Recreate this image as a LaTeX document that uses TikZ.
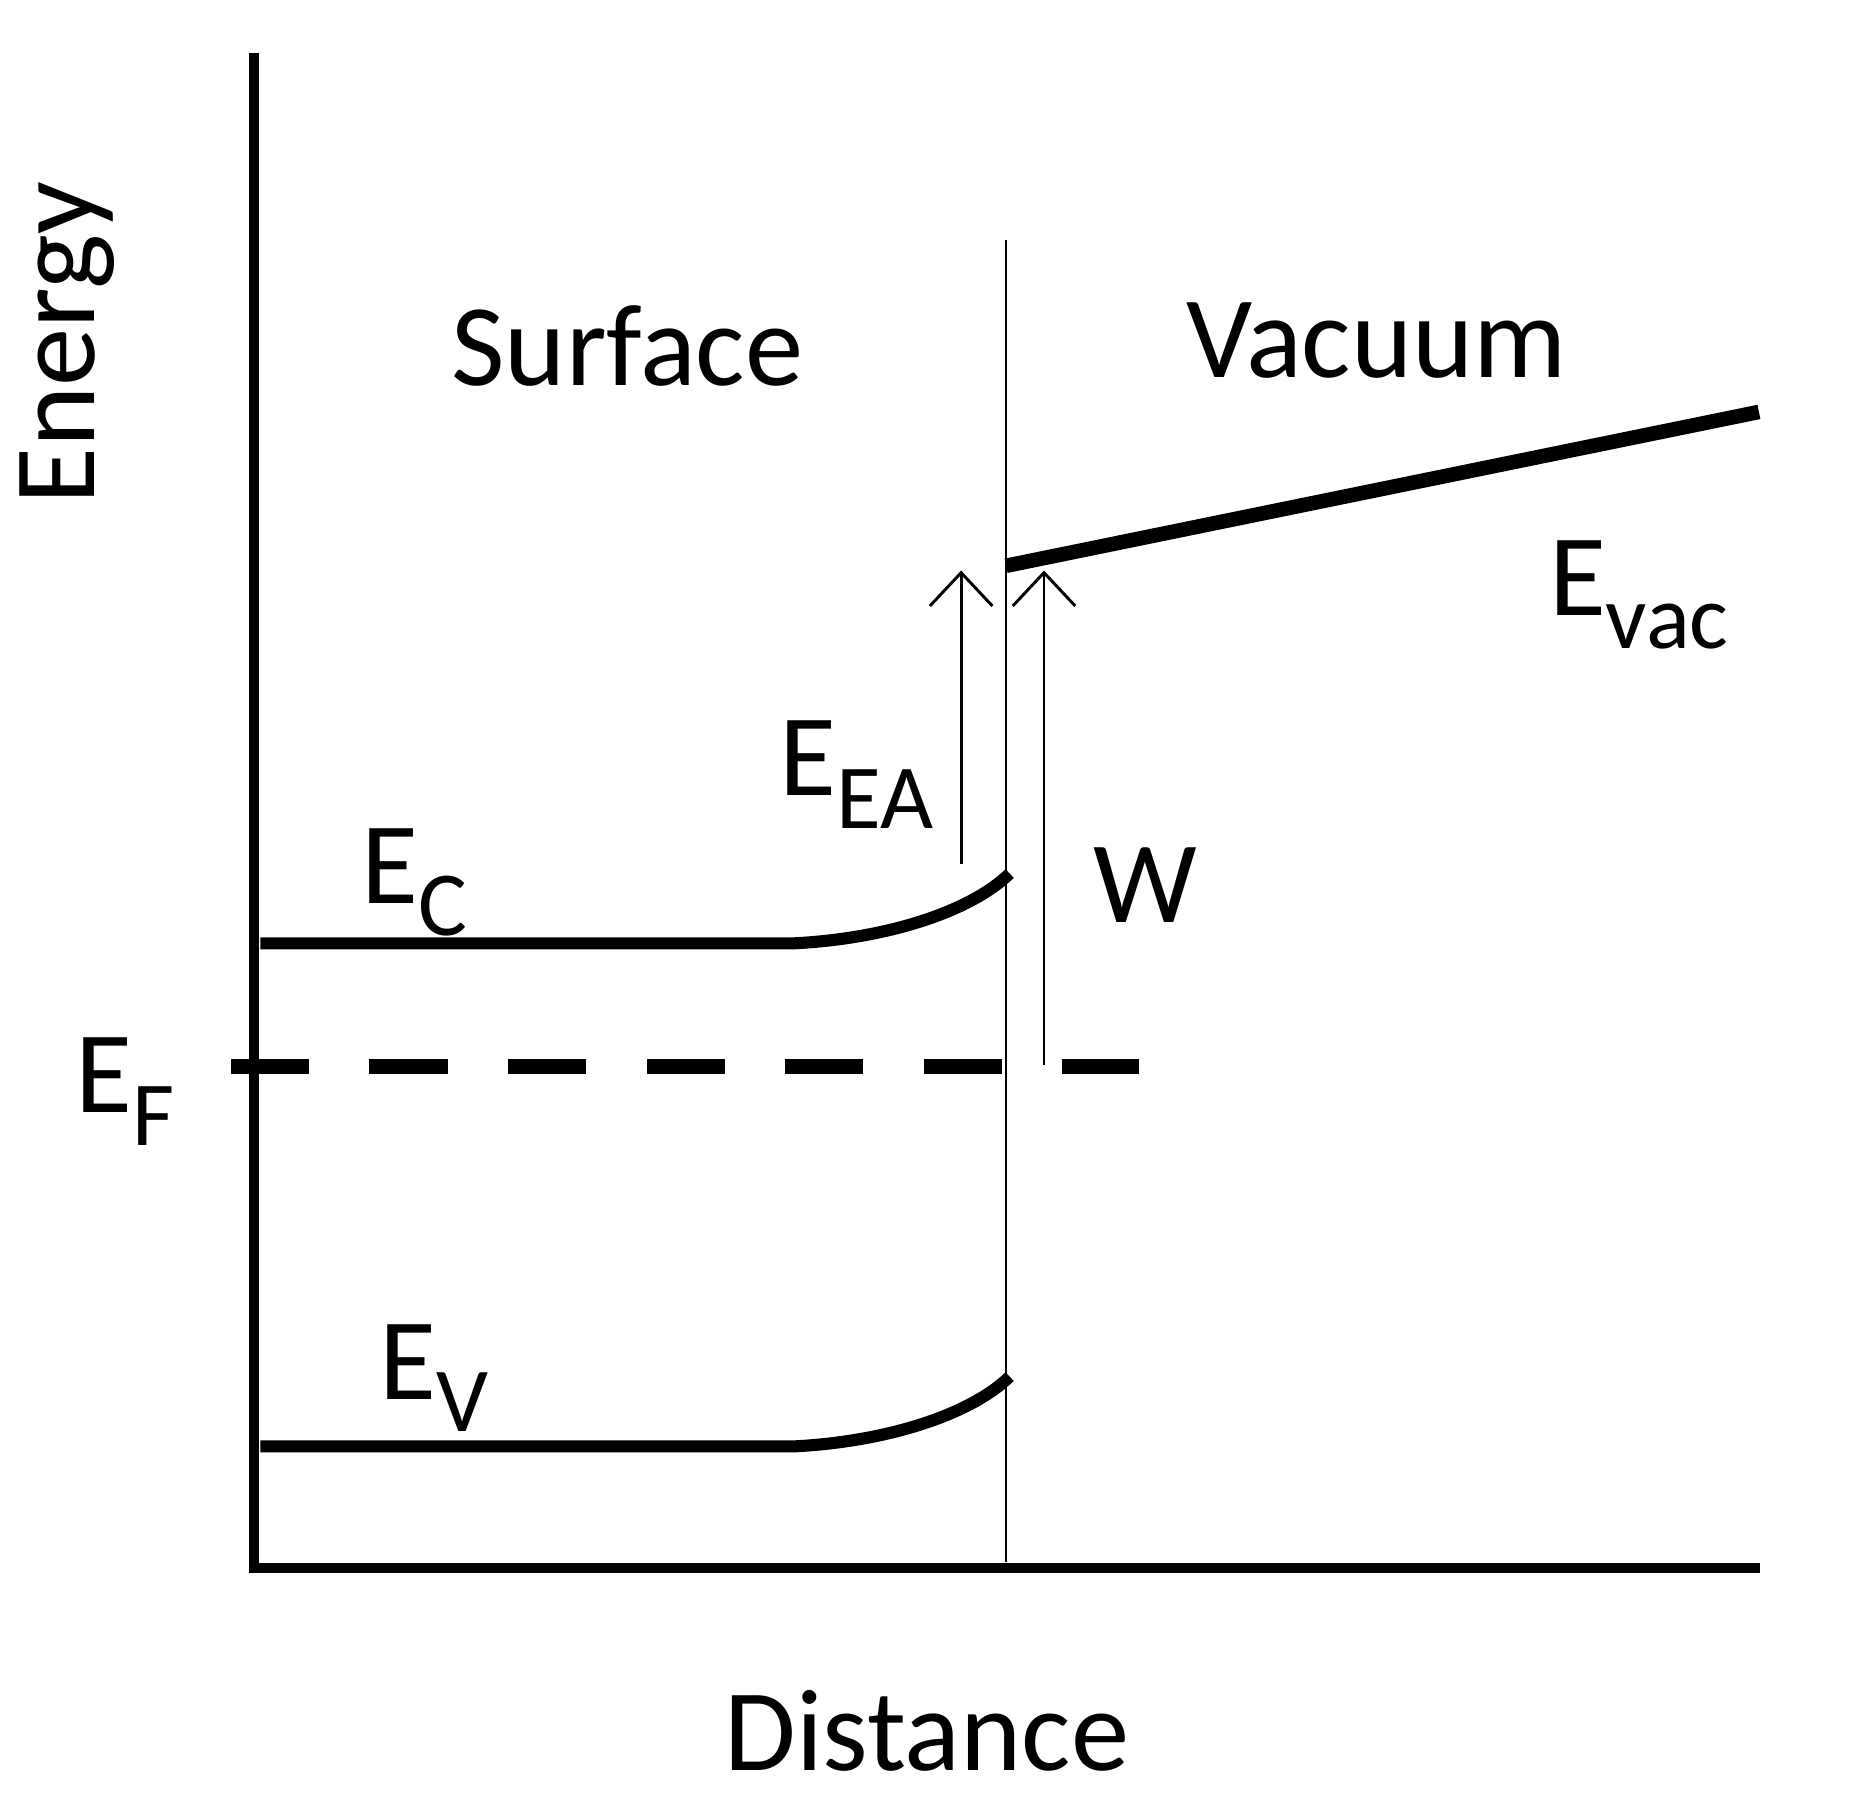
\documentclass[tikz,border=0pt]{standalone}
\usepackage{fontspec}
\setmainfont{Carlito}
\usetikzlibrary{arrows.meta}
\newcommand{\sbs}[1]{\raisebox{-0.28em}{\fontsize{22}{24}\selectfont #1}}
\begin{document}
\begin{tikzpicture}[x=0.01cm,y=-0.01cm,
  lbl/.style={inner sep=0pt,font=\fontsize{28}{30}\selectfont},
  ax/.style={line width=2.4pt},
  band/.style={line width=2.9pt},
  thin/.style={line width=0.6pt},
  arr/.style={line width=0.7pt,-{Straight Barb[length=8pt,width=15pt,line width=0.7pt]}}]
\useasboundingbox (0,0) rectangle (1568,1521);
\coordinate (o) at (215,1325);
\coordinate (yt) at (215,45);
\coordinate (xr) at (1487,1325);
\draw[ax] (yt) -- (o) -- (xr);
\coordinate (st) at (850,203);
\coordinate (sb) at (850,1320);
\draw[thin] (st) -- (sb);
\coordinate (v1) at (850,478);
\coordinate (v2) at (1486,348);
\draw[line width=3.5pt] (v1) -- (v2);
\draw[band] (220,797) -- (670,797) .. controls (750,793) and (820,770) .. (853,738);
\draw[band] (220,1222) -- (670,1222) .. controls (750,1218) and (820,1195) .. (853,1163);
\draw[line width=3.4pt,dash pattern=on 0.66cm off 0.51cm] (195,901) -- (962,901);
\coordinate (a1) at (812,730); \coordinate (a2) at (812,482);
\coordinate (b1) at (882,900); \coordinate (b2) at (882,482);
\draw[arr] (a1) -- (a2);
\draw[arr] (b1) -- (b2);
\node[lbl,rotate=90] (en) at (57,290) {Energy};
\node[lbl] (di) at (783,1462) {Distance};
\node[lbl] (su) at (530,292) {Surface};
\node[lbl] (va) at (1163,288) {Vacuum};
\node[lbl,anchor=base west] (ec) at (305,763) {E\sbs{C}};
\node[lbl,anchor=base west] (ev) at (320,1182) {E\sbs{V}};
\node[lbl,anchor=base west] (ef) at (63,940) {E\sbs{F}};
\node[lbl,anchor=base west] (eea) at (658,672) {E\sbs{EA}};
\node[lbl,anchor=base west] (evac) at (1308,520) {E\sbs{vac}};
\node[lbl] (w) at (968,748) {W};
\end{tikzpicture}
\end{document}
